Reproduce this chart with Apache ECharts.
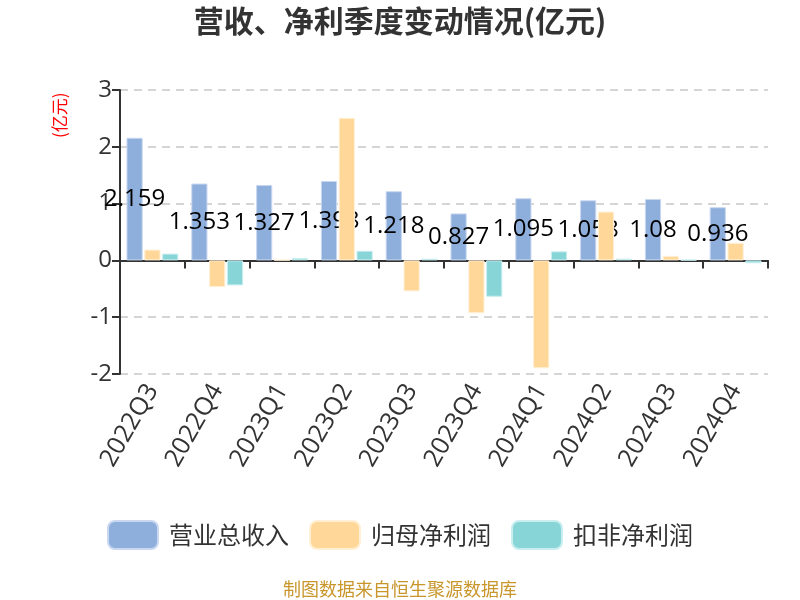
<!DOCTYPE html>
<html>
<head>
<meta charset="utf-8">
<script src="https://cdn.jsdelivr.net/npm/echarts@6/dist/echarts.min.js"></script>
<style>html,body{margin:0;padding:0;background:#fff}#main{width:800px;height:600px}</style>
</head>
<body>
<div id="main"></div>
<script>
const categories = ['2022Q3','2022Q4','2023Q1','2023Q2','2023Q3','2023Q4','2024Q1','2024Q2','2024Q3','2024Q4'];
const revenue = [2.159, 1.353, 1.327, 1.398, 1.218, 0.827, 1.095, 1.058, 1.08, 0.936];
const netProfit = [0.19, -0.47, 0.01, 2.51, -0.545, -0.93, -1.90, 0.86, 0.08, 0.31];
const deductedProfit = [0.12, -0.44, 0.04, 0.17, 0.03, -0.64, 0.16, 0.03, 0.01, -0.05];
const seriesNames = ['营业总收入', '归母净利润', '扣非净利润'];
const yTicks = { min: -2, max: 3, interval: 1 };

const chart = echarts.init(document.getElementById('main'), null, { renderer: 'canvas' });
const font = 'Noto Sans CJK SC, Noto Sans, sans-serif';
const numFont = '"Open Sans", "Noto Sans CJK SC", sans-serif';
chart.setOption({
  animation: false,
  textStyle: { fontFamily: font },
  title: [
    { text: '营收、净利季度变动情况(亿元)', left: 'center', top: 1,
      textStyle: { fontSize: 30, fontWeight: 'bold', color: '#333', fontFamily: font } },
    { text: '制图数据来自恒生聚源数据库', left: 'center', top: 575,
      textStyle: { fontSize: 18, fontWeight: 'normal', color: '#c8962b', fontFamily: font } }
  ],
  graphic: [{
    type: 'text', x: 51, y: 138, rotation: Math.PI / 2,
    style: { text: '(亿元)', fill: '#ff0000', fontSize: 17, fontFamily: font }
  }],
  legend: {
    data: seriesNames, left: 'center', top: 515,
    itemWidth: 50, itemHeight: 28, itemGap: 20,
    textStyle: { fontSize: 24, color: '#333', fontFamily: font, padding: [0, 0, 0, 6] }
  },
  grid: { left: 120, right: 32, top: 90, bottom: 226, containLabel: false },
  xAxis: [
    { type: 'category', data: categories, position: 'bottom',
      axisLine: { show: false, onZero: false }, axisTick: { show: false },
      axisLabel: { rotate: 60, fontSize: 25, color: '#333', margin: 12, interval: 0, fontFamily: numFont } },
    { type: 'category', data: categories, position: 'bottom',
      axisLine: { show: true, onZero: true, lineStyle: { color: '#333', width: 2 } },
      axisTick: { show: true, length: 8, lineStyle: { color: '#333', width: 2 } },
      axisLabel: { show: false } }
  ],
  yAxis: {
    type: 'value', min: yTicks.min, max: yTicks.max, interval: yTicks.interval,
    axisLine: { show: true, lineStyle: { color: '#333', width: 2 } },
    axisTick: { show: true, length: 8, lineStyle: { color: '#333', width: 2 } },
    axisLabel: { fontSize: 24, color: '#333', margin: 8, fontFamily: numFont },
    splitLine: { show: true, lineStyle: { type: [8, 6], color: '#c8c8c8', width: 1.5 } }
  },
  series: [
    { name: seriesNames[0], type: 'bar', data: revenue, xAxisIndex: 0, z: 2,
      barGap: '10%', barCategoryGap: '20%',
      itemStyle: { color: '#8eaedb', borderColor: '#c9d8f0', borderWidth: 1 },
      label: { show: true, position: 'inside', color: '#000', fontSize: 24, fontFamily: numFont } },
    { name: seriesNames[1], type: 'bar', data: netProfit, xAxisIndex: 0, z: 3,
      barGap: '10%', barCategoryGap: '20%',
      itemStyle: { color: '#ffd899', borderColor: '#fff0d6', borderWidth: 1 } },
    { name: seriesNames[2], type: 'bar', data: deductedProfit, xAxisIndex: 0, z: 3,
      barGap: '10%', barCategoryGap: '20%',
      itemStyle: { color: '#88d5d8', borderColor: '#c9eef0', borderWidth: 1 } }
  ]
});
</script>
</body>
</html>
